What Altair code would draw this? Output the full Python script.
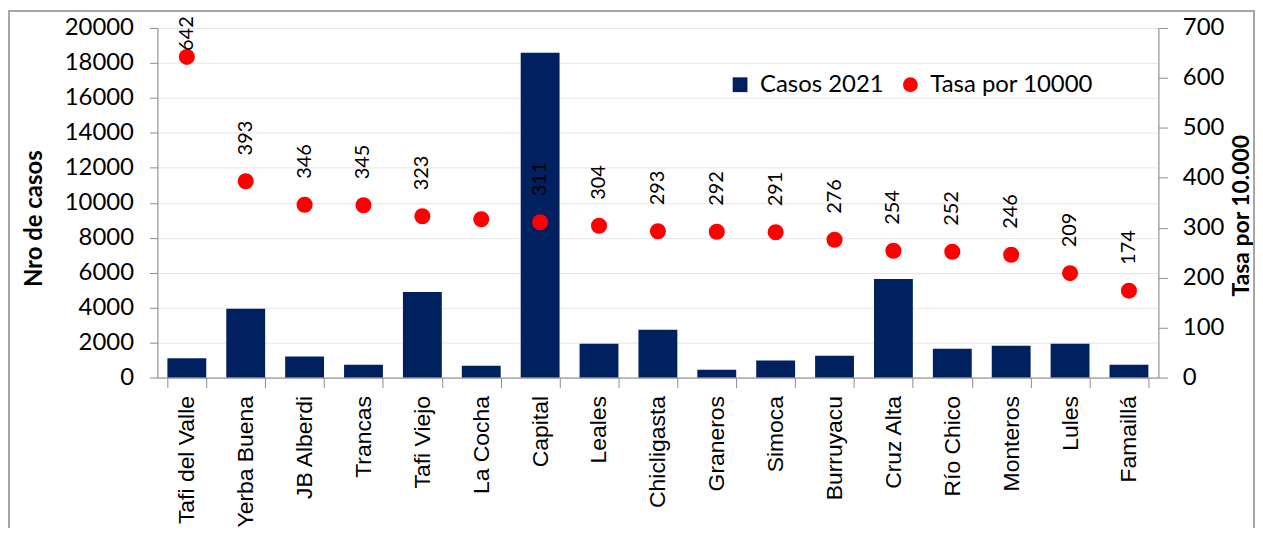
import altair as alt
import pandas as pd

categorias = ["Tafi del Valle", "Yerba Buena", "JB Alberdi", "Trancas", "Tafi Viejo",
              "La Cocha", "Capital", "Leales", "Chicligasta", "Graneros", "Simoca",
              "Burruyacu", "Cruz Alta", "Río Chico", "Monteros", "Lules", "Famaillá"]
casos_2021 = [1100, 3930, 1200, 740, 4900, 680, 18580, 1940, 2730, 450, 970,
              1250, 5640, 1650, 1820, 1940, 740]
tasa = [642, 393, 346, 345, 323, 317, 311, 304, 293, 292, 291, 276, 254, 252, 246, 209, 174]
etiquetas = ["642", "393", "346", "345", "323", "", "311", "304", "293", "292", "291",
             "276", "254", "252", "246", "209", "174"]
series = ["Casos 2021", "Tasa por 10000"]
ticks_casos = list(range(0, 20001, 2000))
ticks_tasa = list(range(0, 701, 100))

df = pd.DataFrame({"cat": categorias, "casos": casos_2021, "tasa": tasa, "etq": etiquetas})

GREY = "#8c8c8c"
NUM_FONT = "Lato"

x_enc = alt.X("cat:N", sort=categorias,
              scale=alt.Scale(paddingInner=0.34, paddingOuter=0.17),
              axis=alt.Axis(title=None, labelAngle=-90, labelFont="Liberation Sans",
                            labelFontSize=23, labelColor="black", tickBand="extent",
                            tickSize=10, labelPadding=8, domainColor=GREY, tickColor=GREY,
                            grid=False))

color_scale = alt.Scale(domain=series, range=["#002060", "#ff0000"])
shape_scale = alt.Scale(domain=series, range=["square", "circle"])

leg = alt.Legend(orient="none", legendX=573, legendY=45, direction="horizontal", columns=2,
                 title=None, labelFont=NUM_FONT, labelFontSize=24, labelColor="black",
                 labelLimit=400, symbolSize=220, symbolStrokeWidth=0, symbolOpacity=1,
                 labelOffset=8, columnPadding=14)

base = alt.Chart(df)

bars = base.transform_calculate(serie="'Casos 2021'").mark_bar(color="#002060").encode(
    x=x_enc,
    y=alt.Y("casos:Q", scale=alt.Scale(domain=[0, 20000], nice=False),
            axis=alt.Axis(values=ticks_casos, format="d", title="Nro de casos",
                          titleFont=NUM_FONT, titleFontSize=24, titleFontWeight="bold",
                          titleColor="black", labelFont=NUM_FONT, labelFontSize=24,
                          labelColor="black", tickSize=8, labelPadding=16, tickColor=GREY,
                          domainColor=GREY, grid=True, gridColor="#e6e6e6", titleAngle=-90,
                          titleX=-123, titleY=191, titleAlign="center",
                          titleBaseline="middle")),
    color=alt.Color("serie:N", scale=color_scale, legend=leg),
)

y_tasa = alt.Y("tasa:Q", scale=alt.Scale(domain=[0, 700], nice=False),
               axis=alt.Axis(values=ticks_tasa, format="d", orient="right",
                             title="Tasa por 10.000", titleFont=NUM_FONT, titleFontSize=23,
                             titleFontWeight="bold", titleColor="black", labelFont=NUM_FONT,
                             labelFontSize=24, labelColor="black", tickSize=9,
                             labelPadding=15, tickColor=GREY, domainColor=GREY, grid=False,
                             titleAngle=-90, titleX=83, titleY=188, titleAlign="center",
                             titleBaseline="middle"))

points = base.transform_calculate(serie="'Tasa por 10000'").mark_point(
    filled=True, size=260, opacity=1).encode(
    x=x_enc,
    y=y_tasa,
    color=alt.Color("serie:N", scale=color_scale, legend=leg),
    shape=alt.Shape("serie:N", scale=shape_scale, legend=leg),
)

text_low = base.transform_filter("datum.tasa < 600").mark_text(
    angle=270, align="left", baseline="middle", dx=26, font=NUM_FONT, fontSize=20,
    color="black").encode(x=x_enc, y=alt.Y("tasa:Q"), text="etq:N")

text_high = base.transform_filter("datum.tasa >= 600").mark_text(
    angle=270, align="left", baseline="middle", dx=6, font=NUM_FONT, fontSize=20,
    color="black").encode(x=x_enc, y=alt.Y("tasa:Q"), text="etq:N")

frame = base.mark_rect(filled=False, stroke="#a6a6a6", strokeWidth=1.5).encode(
    x=alt.value(-149), x2=alt.value(1101), y=alt.value(-17), y2=alt.value(520))

right = alt.layer(points, text_low, text_high)

chart = alt.layer(frame, bars, right).resolve_scale(y="independent").properties(
    width=1005, height=351,
    autosize=alt.AutoSizeParams(type="none"),
    padding={"left": 150, "top": 19, "right": 97, "bottom": 150},
).configure_view(stroke=None).configure(background="white")

chart.save("out.html", embed_options={"renderer": "svg", "actions": False})
